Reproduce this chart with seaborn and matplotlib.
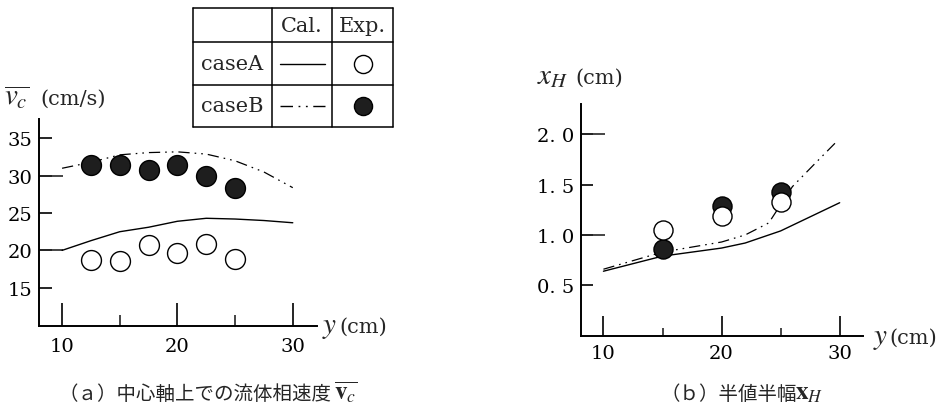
import matplotlib
matplotlib.use("Agg")
import matplotlib.pyplot as plt
import seaborn as sns
import pandas as pd

# ---------------- data ----------------
# (a) centre-line particle velocity
a_calc_x = [10, 12.5, 15, 17.5, 20, 22.5, 25, 27.5, 30]
a_calcA_y = [20.0, 21.3, 22.5, 23.1, 23.9, 24.3, 24.2, 24.0, 23.7]
a_calcB_y = [31.0, 31.8, 32.8, 33.1, 33.2, 32.9, 32.0, 30.5, 28.4]
a_exp_x = [12.5, 15, 17.5, 20, 22.5, 25]
a_expA_y = [18.7, 18.6, 20.7, 19.7, 20.9, 18.9]
a_expB_y = [31.5, 31.5, 30.8, 31.4, 30.0, 28.3]

# (b) half-value half-width
b_calcA_x = [10, 15, 20, 22, 25, 30]
b_calcA_y = [0.64, 0.79, 0.87, 0.92, 1.04, 1.32]
b_calcB_x = [10, 15, 20, 22, 24, 25, 26, 28, 29.6]
b_calcB_y = [0.66, 0.83, 0.93, 1.00, 1.12, 1.30, 1.48, 1.72, 1.91]
b_exp_x = [15, 20, 25]
b_expA_y = [1.05, 1.19, 1.33]
b_expB_y = [0.86, 1.29, 1.43]

a_yticks = [15, 20, 25, 30, 35]
a_yticklabels = ["15", "20", "25", "30", "35"]
b_yticks = [0.5, 1.0, 1.5, 2.0]
b_yticklabels = ["0. 5", "1. 0", "1. 5", "2. 0"]
xticks = [10, 20, 30]
xticklabels = ["10", "20", "30"]

legend_rows = ["caseA", "caseB"]
legend_cols = ["Cal.", "Exp."]

# ---------------- style ----------------
sns.set_theme(style="white")
plt.rcParams["font.family"] = ["DejaVu Serif"]
plt.rcParams["mathtext.fontset"] = "stix"

W, H = 942, 410
fig = plt.figure(figsize=(W / 100, H / 100), dpi=100)
fig.patch.set_facecolor("white")

DASHDOT = (0, (9, 4, 1.3, 4, 1.3, 4))
FILL = "#1e1e1e"
MS = 205


def px_axes(x0, y0, x1, y1):
    return fig.add_axes([x0 / W, (H - y1) / H, (x1 - x0) / W, (y1 - y0) / H])


def style_axes(ax, ymajor, ylabels, ylong, xminor, ylen_s, ylen_l, xlen_s, xlen_l,
               fs, ypad, xpad):
    ax.set_facecolor("none")
    for s in ["top", "right"]:
        ax.spines[s].set_visible(False)
    for s in ["left", "bottom"]:
        ax.spines[s].set_color("black")
        ax.spines[s].set_linewidth(1.4)
    ax.xaxis.remove_overlapping_locs = False
    ax.yaxis.remove_overlapping_locs = False
    ax.set_xticks(xticks)
    ax.set_xticklabels(xticklabels)
    ax.set_xticks(xminor, minor=True)
    ax.set_yticks(ymajor)
    ax.set_yticklabels(ylabels)
    ax.set_yticks(ylong, minor=True)
    ax.tick_params(axis="x", which="major", direction="in", length=xlen_l, width=1.2,
                   labelsize=fs, pad=xpad, colors="black", bottom=True)
    ax.tick_params(axis="x", which="minor", direction="in", length=xlen_s, width=1.2,
                   bottom=True)
    ax.tick_params(axis="y", which="major", direction="in", length=ylen_s, width=1.2,
                   labelsize=fs, pad=ypad, colors="black", left=True)
    ax.tick_params(axis="y", which="minor", direction="in", length=ylen_l, width=1.2,
                   left=True, labelleft=False)
    ax.set_xlabel("")
    ax.set_ylabel("")
    ax.grid(False)


# ---------------- panel (a) ----------------
axA = px_axes(39, 120, 317, 327)
dfa = pd.DataFrame({"y": a_calc_x, "A": a_calcA_y, "B": a_calcB_y})
sns.lineplot(data=dfa, x="y", y="A", ax=axA, color="black", lw=1.0, sort=False)
sns.lineplot(data=dfa, x="y", y="B", ax=axA, color="black", lw=0.9, ls=DASHDOT, sort=False)
sns.scatterplot(x=a_exp_x, y=a_expA_y, ax=axA, s=MS, color="white", edgecolor="black",
                linewidth=1.0, zorder=3)
sns.scatterplot(x=a_exp_x, y=a_expB_y, ax=axA, s=MS, color=FILL, edgecolor="black",
                linewidth=1.0, zorder=3)
axA.set_xlim(8, 32.1)
axA.set_ylim(9.87, 37.6)
style_axes(axA, a_yticks, a_yticklabels, [20, 30], [15, 25],
           ylen_s=9.3, ylen_l=17, xlen_s=8, xlen_l=16.5, fs=14, ypad=5, xpad=8)

# ---------------- panel (b) ----------------
axB = px_axes(581, 105, 863.3, 336.7)
sns.lineplot(x=b_calcA_x, y=b_calcA_y, ax=axB, color="black", lw=1.0, sort=False)
sns.lineplot(x=b_calcB_x, y=b_calcB_y, ax=axB, color="black", lw=0.9, ls=DASHDOT, sort=False)
sns.scatterplot(x=b_exp_x, y=b_expB_y, ax=axB, s=MS * 0.92, color=FILL, edgecolor="black",
                linewidth=1.0, zorder=3)
sns.scatterplot(x=b_exp_x, y=b_expA_y, ax=axB, s=MS * 0.92, color="white", edgecolor="black",
                linewidth=1.0, zorder=3)
axB.set_xlim(8.1, 32)
axB.set_ylim(0, 2.3)
style_axes(axB, b_yticks, b_yticklabels, [1.0, 2.0], [15, 25],
           ylen_s=8.6, ylen_l=17, xlen_s=6, xlen_l=14.4, fs=14, ypad=5, xpad=6)

# ---------------- axis labels ----------------
fig.text(4 / W, (H - 105) / H, r"$\overline{v_{c}}$", fontsize=21,
         ha="left", va="baseline")
fig.text(40 / W, (H - 105) / H, "(cm/s)", fontsize=15, ha="left", va="baseline")
fig.text(537 / W, (H - 84) / H, r"$x_{H}$", fontsize=21, ha="left", va="baseline")
fig.text(575 / W, (H - 84) / H, "(cm)", fontsize=15, ha="left", va="baseline")
fig.text(322 / W, (H - 333) / H, r"$y$", fontsize=21, ha="left", va="baseline")
fig.text(339 / W, (H - 333) / H, "(cm)", fontsize=15, ha="left", va="baseline")
fig.text(873 / W, (H - 344) / H, r"$y$", fontsize=21, ha="left", va="baseline")
fig.text(889 / W, (H - 344) / H, "(cm)", fontsize=15, ha="left", va="baseline")

# ---------------- captions ----------------
cap_font = "Noto Sans CJK JP"
fig.text(58 / W, (H - 400) / H, "（ａ）中心軸上での流体相速度",
         fontsize=14, family=cap_font, ha="left", va="baseline")
fig.text(334 / W, (H - 400) / H, r"$\overline{\mathbf{v}_{c}}$",
         fontsize=18, ha="left", va="baseline")
fig.text(660 / W, (H - 400) / H, "（ｂ）半値半幅",
         fontsize=14, family=cap_font, ha="left", va="baseline")
fig.text(795 / W, (H - 400) / H, r"$\mathbf{x}_{H}$",
         fontsize=18, ha="left", va="baseline")

# ---------------- legend table ----------------
axT = px_axes(193, 9, 393, 128)
axT.set_xlim(193, 393)
axT.set_ylim(128, 9)
axT.axis("off")
col_x = [193, 272, 332, 393]
row_y = [9, 43, 86, 128]
for xv in col_x:
    axT.plot([xv, xv], [row_y[0], row_y[-1]], color="black", lw=1.1, clip_on=False)
for yv in row_y:
    axT.plot([col_x[0], col_x[-1]], [yv, yv], color="black", lw=1.1, clip_on=False)
for j, lab in enumerate(legend_cols):
    axT.text((col_x[j + 1] + col_x[j + 2]) / 2, (row_y[0] + row_y[1]) / 2 + 1, lab,
             ha="center", va="center", fontsize=15)
styles = ["-", DASHDOT]
fills = ["white", FILL]
for i, lab in enumerate(legend_rows):
    yc = (row_y[i + 1] + row_y[i + 2]) / 2
    axT.text((col_x[0] + col_x[1]) / 2, yc, lab, ha="center", va="center", fontsize=15)
    axT.plot([280, 325], [yc, yc], color="black", lw=1.0, ls=styles[i])
    axT.scatter([362.5], [yc], s=170, color=fills[i], edgecolor="black", linewidth=1.0,
                zorder=3)

fig.savefig("out.png", dpi=100, facecolor="white")
